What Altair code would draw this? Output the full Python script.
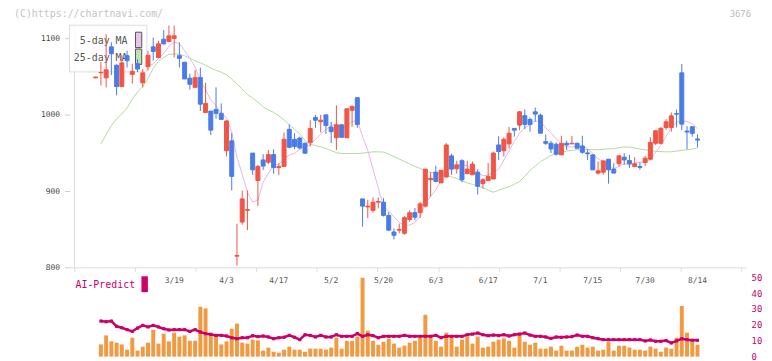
import altair as alt
import pandas as pd

# ---------------- data ----------------
opens = [1048.5, 1055, 1048.5, 1089, 1065, 1037, 1077.5, 1053, 1067, 1042,
         1063, 1089, 1075, 1099, 1096, 1100, 1077.5, 1069, 1048, 1036,
         1049, 1003, 1005, 1007, 1002, 953, 966, 815, 859.7, 875,
         950, 914, 941, 938, 948, 931, 932.5, 981, 968, 969.7,
         962.8, 964, 996.5, 991, 1000, 984, 970, 987, 970, 1006,
         1022.5, 890, 879.5, 875, 885.7, 885.7, 868.4, 846.7, 849, 845,
         863, 872, 872, 880.5, 915, 925, 911, 918.6, 946.3, 929.4,
         940, 923, 921.6, 925, 910, 914, 916, 960.6, 953, 962,
         982.3, 986.6, 999, 994, 1004, 999.6, 965, 962.8, 961.5, 947.6,
         962.8, 962, 962.8, 959.3, 950.2, 947.6, 923.8, 925, 942, 929,
         936, 944.6, 940.2, 932.5, 932.5, 937.7, 942, 962.8, 962.8, 983.5,
         983.5, 1001.7, 1055, 978.8, 984.4, 968.4]
closes = [1049.5, 1055.5, 1059, 1080, 1037, 1068, 1071, 1057, 1060, 1055,
          1078, 1083, 1093, 1093, 1103.5, 1103.5, 1074, 1047, 1040, 1049,
          1014, 1015, 980, 1002, 994, 992, 919.5, 816, 890, 876,
          928, 932.5, 933, 948, 931, 932.5, 968, 957.6, 958.5, 956.7,
          949.8, 982, 993, 993, 986, 978, 987, 970.6, 1008, 1011,
          987.5, 880.5, 880.5, 885.7, 886.6, 868.4, 849, 842.4, 850, 865.4,
          871.9, 866, 883.5, 929, 917, 913, 927.5, 960.6, 929, 934.6,
          915, 929, 935.5, 906.5, 915, 919.5, 950, 952, 968, 976,
          980, 1004, 987.5, 987.5, 1001, 976, 962.8, 955.4, 948.5, 962.8,
          960.6, 962.8, 956.3, 951, 949, 928, 926.8, 939.8, 928, 923.8,
          946.3, 941, 936, 936, 931.2, 943.3, 964, 979.2, 982.3, 990.9,
          998.7, 1000.9, 987.9, 977.5, 975.8, 967]
highs = [1050, 1069, 1105.6, 1095, 1066, 1078, 1084, 1067, 1073, 1060,
         1084, 1101, 1097, 1111, 1117, 1117, 1095, 1069, 1054, 1059,
         1062, 1042, 1005, 1036, 1015, 993, 976, 857.6, 901, 901,
         950, 934.5, 948.5, 954, 955, 936.5, 977, 987.5, 976, 971.4,
         964, 993, 1000, 1000, 1000, 991, 1012.5, 987.5, 1008, 1012.5,
         1022.5, 890, 889, 892, 892, 891, 872.7, 851.5, 857.6, 867.5,
         875, 878, 886, 929, 925, 933.3, 927.5, 963, 949, 940,
         942, 940, 939, 929, 917.3, 937, 952, 972, 970.6, 984.4,
         982.3, 1005, 1007, 996.5, 1009.5, 1001.7, 974.5, 966, 964, 972.7,
         966.4, 972.3, 963.6, 972.7, 955, 948.5, 939, 939.8, 942, 936.8,
         947.6, 949.8, 947.6, 944.6, 938, 946.3, 970.6, 979.2, 984.4, 994.4,
         1003, 1006.9, 1066.7, 985.3, 985.3, 974.5]
lows = [1048, 1038.5, 1036, 1052, 1025.5, 1037, 1062, 1041, 1056, 1036,
        1058, 1071, 1075, 1092, 1095, 1075, 1062, 1047, 1033, 1036,
        1005, 1003, 973.5, 995, 994, 945.5, 901, 802.6, 856, 849,
        921.5, 880.5, 928, 935.5, 923, 921, 932.5, 956, 955, 955,
        949, 958.6, 983, 977, 975, 963, 954, 970, 970, 984.5,
        983, 853.7, 865, 872, 877.5, 867, 849, 837, 845, 843,
        860, 862, 865, 879, 893, 911.7, 911, 918.6, 921.6, 923,
        911.7, 922.5, 921.6, 895.7, 903.5, 914, 916, 941, 945.5, 956,
        971.4, 980, 981.4, 978, 991, 976, 960.6, 950, 946.7, 947.6,
        954, 962, 956.3, 949, 941, 928, 921.6, 921.6, 910, 923.8,
        932.5, 934.6, 930.3, 931.2, 928, 933.3, 940.2, 960.6, 961.5, 980,
        978, 983.5, 980, 955, 971.4, 957.6]
ma25 = [None, 962.3, 974, 985.7, 994.8, 1001.3, 1009, 1020.8, 1029.9, 1037,
        1048, 1061, 1070, 1075.3, 1079.2, 1079.6, 1079.6, 1077.3, 1074, 1070.8,
        1068.2, 1065, 1061, 1058.4, 1055.8, 1052.6, 1046.8, 1040.3, 1033.8, 1026.6,
        1022, 1016.9, 1010.4, 1006.5, 1003.2, 998.7, 993.5, 987, 981.2, 975.3,
        966, 961.7, 959.7, 958.4, 955.8, 953.2, 950.6, 949.4, 949.4, 949.4,
        949.4, 950, 950.6, 951.6, 951.6, 951.3, 948.7, 945.5, 942.2, 939,
        935.5, 932.5, 929.9, 926.6, 924.7, 923.4, 922.7, 921.2, 918.8, 916.9,
        913.6, 911, 909, 907.1, 904.5, 901.3, 898.7, 901.3, 903.9, 905.8,
        909, 913, 919.5, 927.3, 933.1, 938.6, 942.9, 946.8, 949.4, 950.6,
        952.6, 953.6, 954.5, 954.3, 954.5, 954.5, 954.5, 954.9, 955.5, 955.8,
        957.1, 958, 957.8, 956.5, 955.2, 954.3, 953.2, 952.3, 951.9, 951.6,
        951.6, 952.6, 953.6, 954.2, 955.2, 956.8]
volume = [None, 7.7, 13.4, 9.6, 8.8, 7.7, 4.4, 11.9, 3.8, 6.3,
          8.8, 17, 8.2, 14.5, 9.6, 15.1, 12.6, 13.4, 10, 10,
          31.4, 30.4, 15.1, 14, 7.7, 9.6, 17.6, 20.8, 8.8, 8.2,
          10.7, 10.3, 3.8, 5.7, 3.1, 2.5, 4.4, 6.3, 4.4, 4.4,
          3.1, 5, 5, 5, 4.4, 5.7, 11.9, 5, 10, 10,
          12.6, 49.7, 16.4, 10, 7.5, 9.4, 11.3, 8.2, 5.7, 6.9,
          8.8, 10, 11.9, 26.4, 13.2, 10, 6.3, 15.1, 11.9, 6.3,
          10.7, 12.6, 8.2, 12.6, 5.7, 6.3, 9.4, 10.7, 11.5, 10,
          5.7, 13.8, 9.4, 7.5, 8.8, 5, 5, 6.3, 3.8, 6.9,
          3.8, 3.8, 6.3, 7.5, 5.7, 6.3, 3.8, 4.4, 9.4, 3.8,
          6.9, 6.9, 5.7, 4.4, 4.4, 3.8, 6.3, 5, 3.1, 5.7,
          5, 11.9, 31.9, 15.1, 9.4, 7.5]
ai_predict = [None, 22.4, 22, 22.4, 19.1, 18.2, 17, 15.9, 18, 19.7,
              18.7, 19.7, 18.7, 17.6, 16.8, 17, 17, 17, 15.9, 17,
              15.5, 14.5, 14, 13.4, 13.4, 13, 11.9, 11.3, 11.9, 11.9,
              13.2, 12.6, 13, 12.4, 11.3, 11.9, 12.2, 13.4, 12.2, 10.7,
              13.8, 13.4, 12.4, 13.4, 12.4, 12.4, 13.8, 12.8, 12.8, 12.8,
              14.5, 12.8, 13.8, 13.2, 11.9, 12.8, 12.8, 12.8, 12.8, 13.4,
              12.8, 12.8, 12.8, 12.8, 12.8, 13.4, 11.9, 12.8, 12.8, 12.8,
              12.8, 13.8, 14.2, 14.9, 13.8, 13.2, 13.6, 13.3, 13.8, 13,
              13.8, 14.2, 14.9, 13.6, 12.8, 12.8, 12.4, 11.5, 12.4, 12.2,
              12.4, 12.6, 13.6, 12.8, 12.8, 11.9, 11.3, 10.7, 10.7, 10.7,
              10.7, 10.7, 10.7, 10.7, 10.7, 9.9, 10.5, 9.7, 9.7, 10.1,
              8.6, 9.9, 11.3, 10.7, 10.3, 10.3]
date_labels = ["3/19", "4/3", "4/17", "5/2", "5/20", "6/3", "6/17", "7/1", "7/15", "7/30", "8/14"]
date_index = [15, 25, 35, 45, 55, 65, 75, 85, 95, 105, 115]
price_ticks = [800, 900, 1000, 1100]
right_ticks = [0, 10, 20, 30, 40, 50]
x_ticks = [-4.05, 7.53, 19.11, 30.7, 42.28, 53.86, 65.44, 77.03, 88.61, 100.2, 111.78, 123.35]
legend_labels = ["5-day MA", "25-day MA"]

# ---------------- styling ----------------
RED = "#f05545"
BLUE = "#4a7be8"
ORANGE = "#f29a42"
CRIMSON = "#cc0066"
PINK = "#e8b4ea"
GREEN = "#b2daa2"
MONO = "DejaVu Sans Mono"

n = len(opens)
df = pd.DataFrame({"i": list(range(n)), "open": opens, "close": closes,
                   "high": highs, "low": lows})
df["col"] = [RED if c >= o else BLUE for o, c in zip(opens, closes)]
df_ma25 = pd.DataFrame({"i": list(range(n)), "ma25": ma25}).dropna()
df_vol = pd.DataFrame({"i": list(range(n)), "vol": volume, "ai": ai_predict}).dropna()
df_dates = pd.DataFrame({"i": date_index, "label": date_labels})
df_axis = pd.DataFrame({"i": [x_ticks[0]], "lo": [800], "hi": [1117]})
dummy = pd.DataFrame({"a": [0]})

xs = alt.Scale(domain=[x_ticks[0], x_ticks[-1]], nice=False, zero=False)
ps = alt.Scale(domain=[683.5, 1122.5], nice=False, zero=False)
vs = alt.Scale(domain=[0, 211.25], nice=False, zero=False)

x_axis = alt.Axis(orient="bottom", offset=-90, values=x_ticks, labels=False,
                  tickSize=4, tickColor="#dcdcdc", domainColor="#dcdcdc",
                  grid=False, title=None)
p_axis = alt.Axis(values=price_ticks, format="d", domain=False, grid=False, tickSize=5,
                  tickColor="#cccccc", labelColor="#444444", labelFont=MONO,
                  labelFontSize=8, labelPadding=5, title=None)
v_axis = alt.Axis(orient="right", values=right_ticks, format="d", domain=False, ticks=False,
                  grid=False, labelColor=CRIMSON, labelFont=MONO, labelFontSize=9,
                  labelPadding=5, title=None)


def X():
    return alt.X("i:Q", scale=xs, axis=x_axis)


def YP(field):
    return alt.Y(field, type="quantitative", scale=ps, axis=p_axis)


def YV(field):
    return alt.Y(field, type="quantitative", scale=vs, axis=v_axis)


# ---------------- price panel ----------------
left_line = alt.Chart(df_axis).mark_rule(color="#dcdcdc", strokeWidth=1).encode(
    x=X(), y=YP("lo"), y2="hi")

ma25_line = alt.Chart(df_ma25).mark_line(color=GREEN, strokeWidth=1).encode(
    x=X(), y=YP("ma25"))

ma5_line = alt.Chart(df).transform_window(
    ma5="mean(close)", frame=[-4, 0], sort=[alt.SortField("i")]
).transform_filter("datum.i >= 4").mark_line(color=PINK, strokeWidth=1).encode(
    x=X(), y=YP("ma5"))

legend_box = alt.Chart(dummy).mark_rect(fill="white", fillOpacity=0.85,
                                        stroke="#dddddd", strokeWidth=1).encode(
    x=alt.value(0), x2=alt.value(78), y=alt.value(4), y2=alt.value(51))
leg1 = alt.Chart(dummy).mark_text(
    text=legend_labels[0], align="right", baseline="middle", font=MONO,
    fontSize=10, color="#555555").encode(x=alt.value(58.5), y=alt.value(20))
leg2 = alt.Chart(dummy).mark_text(
    text=legend_labels[1], align="right", baseline="middle", font=MONO,
    fontSize=10, color="#555555").encode(x=alt.value(58.5), y=alt.value(37))
sw_pink = alt.Chart(dummy).mark_rect(fill="#eec0ee", stroke="#555555", strokeWidth=1).encode(
    x=alt.value(66.5), x2=alt.value(72.8), y=alt.value(11), y2=alt.value(26.5))
sw_green = alt.Chart(dummy).mark_rect(fill="#c0e2b0", stroke="#555555", strokeWidth=1).encode(
    x=alt.value(66.5), x2=alt.value(72.8), y=alt.value(28), y2=alt.value(43.5))

wicks = alt.Chart(df).mark_rule(strokeWidth=1).encode(
    x=X(), y=YP("low"), y2="high", color=alt.Color("col:N", scale=None))
bodies = alt.Chart(df).mark_bar(size=4, strokeWidth=1).encode(
    x=X(), y=YP("open"), y2="close",
    color=alt.Color("col:N", scale=None), stroke=alt.Stroke("col:N", scale=None))

date_text = alt.Chart(df_dates).mark_text(
    font=MONO, fontSize=8, color="#555555", baseline="middle").encode(
    x=X(), y=alt.value(262), text="label:N")

top_left = alt.Chart(dummy).mark_text(
    text="(C)https://chartnavi.com/", align="left", baseline="middle",
    font=MONO, fontSize=10, color="#c4c4c4").encode(x=alt.value(-56), y=alt.value(-7.5))
top_right = alt.Chart(dummy).mark_text(
    text="3676", align="right", baseline="middle",
    font=MONO, fontSize=9, color="#bbbbbb").encode(x=alt.value(687), y=alt.value(-7.5))
ai_label = alt.Chart(dummy).mark_text(
    text="AI-Predict", align="left", baseline="middle",
    font=MONO, fontSize=10, color=CRIMSON).encode(x=alt.value(6), y=alt.value(266))
ai_box = alt.Chart(dummy).mark_rect(fill=CRIMSON).encode(
    x=alt.value(72.5), x2=alt.value(79), y=alt.value(257), y2=alt.value(273))

price_group = alt.layer(left_line, ma25_line, ma5_line, legend_box, leg1, leg2,
                        sw_pink, sw_green, wicks, bodies, date_text,
                        top_left, top_right, ai_label, ai_box)

# ---------------- volume / AI panel ----------------
vol_bars = alt.Chart(df_vol).mark_bar(size=4, color=ORANGE).encode(
    x=X(), y=YV("vol"))
ai_line = alt.Chart(df_vol).mark_line(color=CRIMSON, strokeWidth=2.5).encode(
    x=X(), y=YV("ai"))
ai_pts = alt.Chart(df_vol).mark_square(color=CRIMSON, size=10, opacity=1).encode(
    x=X(), y=YV("ai"))

vol_group = alt.layer(vol_bars, ai_line, ai_pts)

chart = alt.layer(price_group, vol_group).resolve_scale(y="independent").properties(
    width=682, height=338,
    autosize=alt.AutoSizeParams(type="none"),
    padding={"left": 62, "top": 12, "right": 18, "bottom": 3},
).configure(background="white", view=alt.ViewConfig(stroke=None))

chart.save("out.html", embed_options={"renderer": "svg", "actions": False})
